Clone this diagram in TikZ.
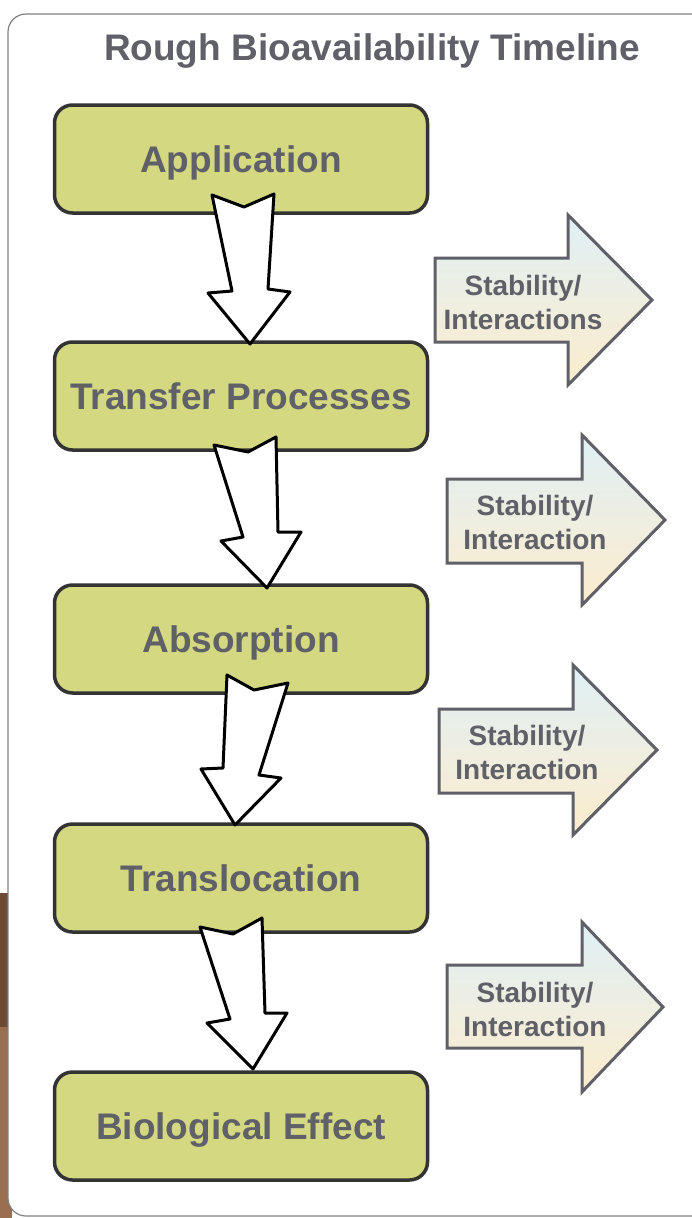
\documentclass[tikz,border=0pt]{standalone}
\usepackage{fontspec}
\setmainfont{Liberation Sans}
\usepackage{tikz}
\usetikzlibrary{calc}

\definecolor{stagefill}{RGB}{212,216,128}
\definecolor{stageline}{RGB}{51,51,51}
\definecolor{labelgray}{RGB}{95,96,104}
\definecolor{sidetop}{RGB}{224,240,246}
\definecolor{sidebot}{RGB}{252,236,204}
\definecolor{framegray}{RGB}{128,128,128}
\definecolor{barkdark}{RGB}{110,74,53}
\definecolor{barklight}{RGB}{154,110,80}

\begin{document}
\begin{tikzpicture}[x=1pt,y=-1pt]
 \tikzstyle{stage}   = [rectangle,rounded corners=18pt,draw=stageline,line width=3.5pt,
                        fill=stagefill,minimum width=373pt,minimum height=108pt,
                        text=labelgray,font=\fontsize{37}{40}\selectfont\bfseries,
                        text height=27pt,text depth=0pt];
 \tikzstyle{flow}    = [draw=black,fill=white,line width=3pt,line join=round];
 \tikzstyle{side}    = [draw=labelgray,line width=3pt,top color=sidetop,bottom color=sidebot];
 \tikzstyle{sidetext} = [align=center,text=labelgray,font=\fontsize{28}{34}\selectfont\bfseries];

 \useasboundingbox (0,0) rectangle (692,1218);

 %% background and frame
 \fill[barkdark]  (0,893) rectangle (12,1027);
 \fill[barklight] (0,1027) rectangle (12,1218);
 \draw[draw=framegray,fill=white,line width=1.2pt,rounded corners=18pt] (8,14) rectangle (712,1216);

 \node[text=labelgray,font=\fontsize{37}{40}\selectfont\bfseries,anchor=base,name=title]
   at (372,60) {Rough Bioavailability Timeline};

 %% stages
 \node[stage, name = app]    at (241,159)  {Application};
 \node[stage, name = trans]  at (241,396)  {Transfer Processes};
 \node[stage, name = absb]   at (241,639)  {Absorption};
 \node[stage, name = transl] at (241,878)  {Translocation};
 \node[stage, name = bio]    at (241,1126) {Biological Effect};

 %% block arrows between stages
 \draw[flow] (212,195) -- (244,207) -- (274,194) -- (268,289) -- (290,292)
             -- (250,344) -- (208,293) -- (232,291) -- cycle;
 \draw[flow] (214,445) -- (248,452) -- (276,437) -- (278,532) -- (301,532)
             -- (267,588) -- (221,541) -- (243,537) -- cycle;
 \draw[flow] (227,675) -- (254,690) -- (288,683) -- (259,775) -- (281,778)
             -- (235,825) -- (201,769) -- (223,768) -- cycle;
 \draw[flow] (200,927) -- (233,934) -- (262,918) -- (265,1013) -- (287,1013)
             -- (253,1069) -- (207,1023) -- (230,1019) -- cycle;

 %% side arrows
 \draw[side] (435,258) -- (568,258) -- (568,215) -- (652,300) -- (568,385)
             -- (568,342) -- (435,342) -- cycle;
 \node[sidetext, name = side1] at (523,302) {Stability/\\Interactions};

 \draw[side] (447,479) -- (582,479) -- (582,435) -- (665,520) -- (582,605)
             -- (582,563) -- (447,563) -- cycle;
 \node[sidetext, name = side2] at (535,522) {Stability/\\Interaction};

 \draw[side] (439,709) -- (573,709) -- (573,665) -- (657,750) -- (573,835)
             -- (573,793) -- (439,793) -- cycle;
 \node[sidetext, name = side3] at (527,752) {Stability/\\Interaction};

 \draw[side] (447,965) -- (582,965) -- (582,922) -- (663,1007) -- (582,1092)
             -- (582,1048) -- (447,1048) -- cycle;
 \node[sidetext, name = side4] at (535,1009) {Stability/\\Interaction};

\end{tikzpicture}
\end{document}
